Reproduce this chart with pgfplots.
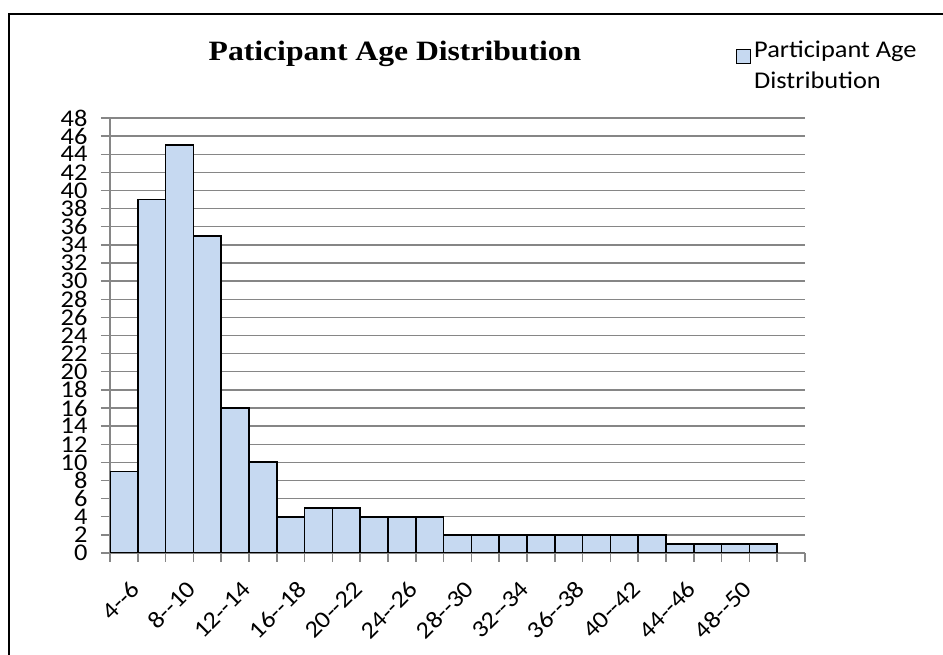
\documentclass[border=0pt]{standalone}
\usepackage{pgfplots}
\pgfplotsset{compat=1.18}
\usepackage{pgfplotstable}
\usepackage{fontspec}
\setmainfont{Carlito}[FakeStretch=1.1]
\newfontfamily\titlefont{Liberation Serif}[FakeStretch=1.13]
\definecolor{barfill}{RGB}{198,217,241}
\definecolor{gridgray}{RGB}{134,134,134}

% square swatch for the legend
\pgfplotsset{sq legend/.style={legend image code/.code={%
  \draw[##1, line width=0.9pt] (0pt,-11.75pt) rectangle (10.5pt,-1.25pt);}}}

% participants per two-year age band (4--6 up to 50--52)
\pgfplotstableread{
idx count
0 9
1 39
2 45
3 35
4 16
5 10
6 4
7 5
8 5
9 4
10 4
11 4
12 2
13 2
14 2
15 2
16 2
17 2
18 2
19 2
20 1
21 1
22 1
23 1
}\agedata

\begin{document}
\begin{tikzpicture}[x=0.75pt,y=0.75pt]
\useasboundingbox (0,0) rectangle (943,655);
\draw[line width=1.1pt] (9,0) -- (9,641) -- (943,641);
\node[font=\titlefont\bfseries\fontsize{21}{25}\selectfont, anchor=base, inner sep=0pt] at (395,594) {Paticipant Age Distribution};
\begin{axis}[
  at={(82.5pt,76.5pt)}, anchor=south west, scale only axis,
  width=521.25pt, height=326.25pt,
  xmin=-0.5, xmax=24.5, ymin=0, ymax=48,
  ybar, bar width=1,
  axis x line*=bottom, axis y line*=left,
  axis line style={gridgray, line width=1.1pt},
  ytick={0,2,...,48},
  ymajorgrids, major grid style={gridgray, line width=1.1pt},
  xtick={-0.5,0.5,...,24.5}, xticklabels={},
  extra x ticks={0,2,...,22},
  extra x tick labels={4-{}-6,8-{}-10,12-{}-14,16-{}-18,20-{}-22,24-{}-26,28-{}-30,32-{}-34,36-{}-38,40-{}-42,44-{}-46,48-{}-50},
  extra x tick style={major tick length=0pt, grid=none,
    xticklabel style={xshift=9pt, yshift=-24pt, rotate=45, anchor=east, inner sep=0pt}},
  tick align=outside, major tick length=6.75pt,
  tick style={gridgray, line width=1.1pt},
  ticklabel style={font=\fontsize{18}{18}\selectfont},
  yticklabel style={inner sep=0pt, xshift=-10pt},
  /pgf/number format/assume math mode=true,
  legend style={at={(0.895,1.2015)}, anchor=north west, draw=none, fill=none,
    font=\fontsize{18}{23}\selectfont},
]
\addplot[fill=barfill, draw=black, line width=1.3pt, sq legend]
  table[x=idx, y=count] {\agedata};
\addlegendentry{\begin{tabular}[t]{@{}l@{}}Participant Age\\Distribution\end{tabular}}
\end{axis}
\end{tikzpicture}
\end{document}
